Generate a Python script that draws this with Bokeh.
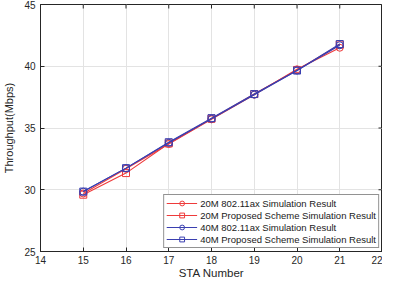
from bokeh.plotting import figure
from bokeh.models import Legend, LegendItem, FixedTicker
from bokeh.embed import file_html
from bokeh.resources import INLINE

sta = [15, 16, 17, 18, 19, 20, 21]
ax20 = [29.7, 31.7, 33.7, 35.7, 37.7, 39.75, 41.5]
prop20 = [29.6, 31.35, 33.75, 35.75, 37.75, 39.7, 41.75]
ax40 = [29.85, 31.75, 33.8, 35.75, 37.7, 39.65, 41.7]
prop40 = [29.85, 31.75, 33.85, 35.8, 37.75, 39.65, 41.8]
labels = ["20M 802.11ax Simulation Result",
          "20M Proposed Scheme Simulation Result",
          "40M 802.11ax Simulation Result",
          "40M Proposed Scheme Simulation Result"]
xticks = [14, 15, 16, 17, 18, 19, 20, 21, 22]
yticks = [25, 30, 35, 40, 45]
XMIN, XMAX = 14, 22
YMIN, YMAX = 25, 45

RED = "#EE3B3B"
BLUE = "#3A3FB0"
FONT = "Liberation Sans"
AXC = "#262626"

p = figure(width=382, height=281, x_range=(XMIN, XMAX), y_range=(YMIN, YMAX),
           output_backend="svg", toolbar_location=None,
           min_border_left=34, min_border_right=0, min_border_top=4, min_border_bottom=0)
p.outline_line_color = AXC
p.background_fill_color = "white"
p.border_fill_color = "white"

for ax in (p.xaxis[0], p.yaxis[0]):
    ax.major_tick_in = 4
    ax.major_tick_out = 0
    ax.minor_tick_line_color = None
    ax.axis_line_color = AXC
    ax.major_tick_line_color = AXC
    ax.major_label_text_font = FONT
    ax.major_label_text_font_size = "10px"
    ax.major_label_text_color = "#262626"
    ax.axis_label_text_font = FONT
    ax.axis_label_text_font_style = "normal"
    ax.axis_label_text_color = "#262626"
p.xaxis.axis_label_text_font_size = "11.5px"
p.yaxis.axis_label_text_font_size = "11px"
p.xaxis.ticker = FixedTicker(ticks=xticks)
p.yaxis.ticker = FixedTicker(ticks=yticks)
p.xaxis.axis_label = "STA Number"
p.yaxis.axis_label = "Throughput(Mbps)"
p.xaxis.major_label_standoff = 4
p.yaxis.major_label_standoff = 5
p.xaxis.axis_label_standoff = 0
p.yaxis.axis_label_standoff = 6

# box-style inward ticks on the top and right edges (half of each dash is clipped)
p.scatter(xticks, [YMAX] * len(xticks), marker="dash", angle=1.5708, size=8,
          line_color=AXC, line_width=1)
p.scatter([XMAX] * len(yticks), yticks, marker="dash", size=8,
          line_color=AXC, line_width=1)

p.xgrid.grid_line_color = "#E3E3E3"
p.ygrid.grid_line_color = "#E3E3E3"
p.xgrid.ticker = FixedTicker(ticks=xticks)
p.ygrid.ticker = FixedTicker(ticks=yticks)

items = []
series = [(ax20, RED, "circle"), (prop20, RED, "square"),
          (ax40, BLUE, "circle"), (prop40, BLUE, "square")]
for (ys, col, mk), lab in zip(series, labels):
    l = p.line(sta, ys, line_color=col, line_width=1.1)
    m = p.scatter(sta, ys, marker=mk, size=7, fill_color=col, fill_alpha=0,
                  line_color=col, line_width=1)
    items.append(LegendItem(label=lab, renderers=[l, m]))

leg = Legend(items=items, location="bottom_right")
leg.label_text_font = FONT
leg.label_text_font_size = "9.5px"
leg.label_text_color = "#1a1a1a"
leg.glyph_width = 31
leg.glyph_height = 12
leg.label_height = 12
leg.label_standoff = 3
leg.spacing = 0
leg.padding = 2
leg.margin = 3
leg.border_line_color = AXC
leg.border_line_width = 1
leg.background_fill_alpha = 1
p.add_layout(leg)

open("out.html", "w").write(file_html(p, INLINE))
